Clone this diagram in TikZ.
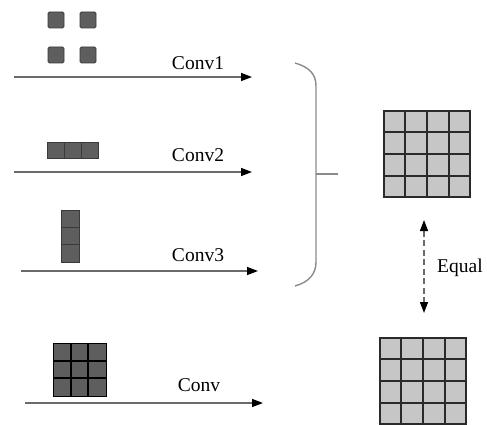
\documentclass[tikz,border=0pt]{standalone}
\usepackage{fontspec}
\setmainfont{Liberation Serif}
\usetikzlibrary{arrows.meta,calc}
\definecolor{kfill}{HTML}{5E5E5E}
\definecolor{kborder}{HTML}{3A3A3A}
\definecolor{gfill}{HTML}{C6C6C6}
\definecolor{gline}{HTML}{2A2A2A}
\definecolor{linegray}{HTML}{6A6A6A}
\definecolor{bracegray}{HTML}{8A8A8A}
\begin{document}
\begin{tikzpicture}[x=1pt,y=-1pt,
  kcell/.style={draw=kborder, fill=kfill, line width=0.9pt, inner sep=0pt, outer sep=0pt},
  bigcell/.style={draw=gline, fill=gfill, line width=1.3pt, inner sep=0pt, outer sep=0pt, minimum size=86pt},
  flow/.style={draw=linegray, line width=1.4pt, -{Triangle[length=11pt,width=8pt,color=black,fill=black]}},
  lbl/.style={font=\fontsize{19.5}{22}\selectfont, inner sep=0pt, text=black},
  brace/.style={draw=bracegray, line width=1.4pt},
  gridln/.style={draw=gline, line width=1.3pt}
]
\useasboundingbox (0,0) rectangle (487,425);

% Conv1 kernel: four separate cells
\foreach \n/\cx/\cy in {k1a/56/20, k1b/88/20, k1c/56/55, k1d/88/55}
  \node[kcell, minimum size=16pt, rounded corners=1.5pt] (\n) at (\cx,\cy) {};
\node[lbl] (l1) at (198,63) {Conv1};
\coordinate (a1s) at (14,77);
\coordinate (a1e) at (252,77);
\draw[flow] (a1s) -- (a1e);

% Conv2 kernel: 1x3
\foreach \n/\cx in {k2a/55.5, k2b/72.5, k2c/89.5}
  \node[kcell, minimum width=17pt, minimum height=16pt] (\n) at (\cx,150) {};
\node[lbl] (l2) at (198,155) {Conv2};
\coordinate (a2s) at (14,172);
\coordinate (a2e) at (252,172);
\draw[flow] (a2s) -- (a2e);

% Conv3 kernel: 3x1
\foreach \n/\cy in {k3a/218.7, k3b/236, k3c/253.3}
  \node[kcell, minimum width=18pt, minimum height=17.3pt] (\n) at (70,\cy) {};
\node[lbl] (l3) at (198,255) {Conv3};
\coordinate (a3s) at (21,271);
\coordinate (a3e) at (258,271);
\draw[flow] (a3s) -- (a3e);

% Conv kernel: 3x3
\node[kcell, draw=black, minimum size=53pt] (k4) at (79.5,369.5) {};
\foreach \i in {18,35}{
  \draw[black, line width=1.1pt] ($(k4.north west)+(\i,0)$) -- ++(0,53);
  \draw[black, line width=1.1pt] ($(k4.north west)+(0,\i)$) -- ++(53,0);
}
\node[lbl] (l4) at (199,385) {Conv};
\coordinate (a4s) at (25,403);
\coordinate (a4e) at (263,403);
\draw[flow] (a4s) -- (a4e);

% Brace
\coordinate (bt) at (295,63);
\coordinate (bb) at (295,286);
\coordinate (bm) at (316,174);
\coordinate (bx) at (338,174);
\draw[brace] (bt) .. controls (309,67) and (316,74) .. (316,86) -- (316,262) .. controls (316,274) and (309,282) .. (bb);
\draw[brace] (bm) -- (bx);

% Output grids
\node[bigcell] (g1) at (427,154) {};
\node[bigcell] (g2) at (423,381) {};
\foreach \g in {g1,g2}{
  \foreach \i in {21,43,65}{
    \draw[gridln] ($(\g.north west)+(\i,0)$) -- ++(0,86);
    \draw[gridln] ($(\g.north west)+(0,\i)$) -- ++(86,0);
  }
}

% Equal arrow
\coordinate (e1) at (424,220);
\coordinate (e2) at (424,313);
\draw[draw=linegray, line width=1.3pt, dash pattern=on 6pt off 3.5pt,
  {Triangle[length=11pt,width=8pt,color=black,fill=black]}-{Triangle[length=11pt,width=8pt,color=black,fill=black]}] (e1) -- (e2);
\node[lbl, anchor=west] (eq) at (437,268) {Equal};
\end{tikzpicture}
\end{document}
